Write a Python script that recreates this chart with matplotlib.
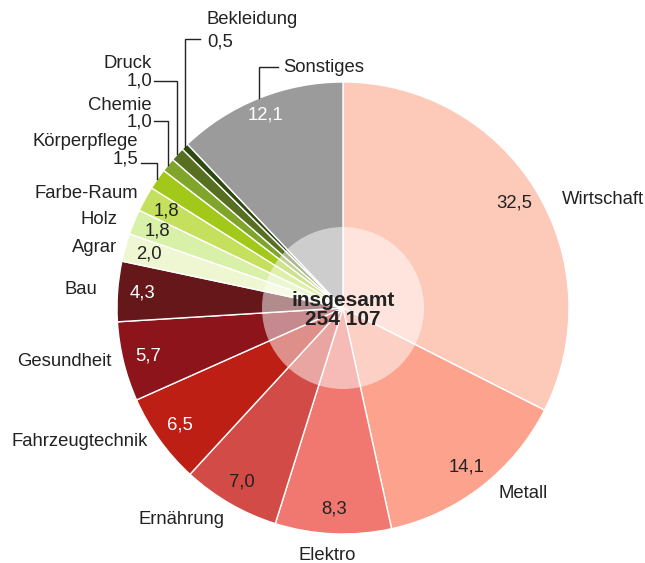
import numpy as np
import matplotlib
matplotlib.use("Agg")
import matplotlib.pyplot as plt
from matplotlib.patches import Circle

plt.rcParams['font.family'] = ['Liberation Sans', 'DejaVu Sans']

# shares in percent, clockwise from 12 o'clock
categories = ['Wirtschaft', 'Metall', 'Elektro', 'Ernährung', 'Fahrzeugtechnik',
              'Gesundheit', 'Bau', 'Agrar', 'Holz', 'Farbe-Raum', 'Körperpflege',
              'Chemie', 'Druck', 'Bekleidung', 'Sonstiges']
shares = [32.5, 14.1, 8.3, 7.0, 6.5, 5.7, 4.3, 2.0, 1.8, 1.8, 1.5, 1.0, 1.0, 0.5, 12.1]
total = '254 107'

colors = ['#fdc9b9', '#fca28d', '#f07870', '#d34b46', '#be1f14', '#8e141c', '#66171a',
          '#eef7d2', '#d8f0a8', '#c4e05c', '#a2c81a', '#7fa52a', '#566f20', '#2e4a10',
          '#9b9b9b']
white_values = {'Fahrzeugtechnik', 'Gesundheit', 'Bau', 'Sonstiges'}
outside_values = {'Körperpflege', 'Chemie', 'Druck', 'Bekleidung'}

# pixel layout (figure is 645 x 563, y from bottom)
W, H = 645, 563
cx, cy, R = 343, 563 - 308, 226
txt = '#222222'
fs = 13.3

# category label anchors: (x, y, ha)
label_pos = {
    'Wirtschaft': (562, 363, 'left'),
    'Metall': (498, 70, 'left'),
    'Elektro': (327, 7, 'center'),
    'Ernährung': (181, 43, 'center'),
    'Fahrzeugtechnik': (148, 121, 'right'),
    'Gesundheit': (112, 201, 'right'),
    'Bau': (97, 273, 'right'),
    'Agrar': (117, 316, 'right'),
    'Holz': (118, 343, 'right'),
    'Farbe-Raum': (138, 370, 'right'),
    'Körperpflege': (138, 421, 'right'),
    'Chemie': (152, 458, 'right'),
    'Druck': (152, 499, 'right'),
    'Bekleidung': (207, 543, 'left'),
    'Sonstiges': (283, 496, 'left'),
}
# y of the leader's horizontal arm and x where it ends
leader = {
    'Körperpflege': (400, 141),
    'Chemie': (442, 154),
    'Druck': (482, 154),
    'Bekleidung': (524, 200),
    'Sonstiges': (496, 278),
}

fig = plt.figure(figsize=(W / 100, H / 100), dpi=100)
ax = fig.add_axes([0, 0, 1, 1])

wedges, _ = ax.pie(shares, colors=colors, startangle=90, counterclock=False,
                   radius=R, center=(cx, cy),
                   wedgeprops=dict(edgecolor='white', linewidth=1.0))
ax.add_patch(Circle((cx, cy), 81, facecolor='white', alpha=0.5, edgecolor='none'))

for w, name, val in zip(wedges, categories, shares):
    mid = np.deg2rad((w.theta1 + w.theta2) / 2)
    vtxt = f'{val:.1f}'.replace('.', ',')
    lx, ly, ha = label_pos[name]
    if name in outside_values:
        ax.text(lx, ly, name, ha=ha, va='center', fontsize=fs, color=txt)
        ax.text(lx, ly - 17 if ha == 'right' else ly - 22, vtxt, ha=ha, va='center',
                fontsize=fs, color=txt)
    else:
        ax.text(lx, ly, name, ha=ha, va='center', fontsize=fs, color=txt)
        rv = 0.92 * R if name == 'Sonstiges' else 0.89 * R
        ax.text(cx + rv * np.cos(mid), cy + rv * np.sin(mid), vtxt, ha='center',
                va='center', fontsize=fs,
                color='white' if name in white_values else txt)
    if name in leader:
        hy, hx = leader[name]
        x0, y0 = cx + R * np.cos(mid), cy + R * np.sin(mid)
        ax.plot([x0, x0, hx], [y0, hy, hy], color=txt, lw=1.0, solid_joinstyle='miter')

ax.text(cx, cy - 2, 'insgesamt\n' + total, ha='center', va='center', fontsize=15,
        fontweight='bold', color=txt, linespacing=0.95)

ax.set_xlim(0, W)
ax.set_ylim(0, H)
ax.set_aspect('equal')
ax.axis('off')

fig.savefig('out.png', dpi=100)
